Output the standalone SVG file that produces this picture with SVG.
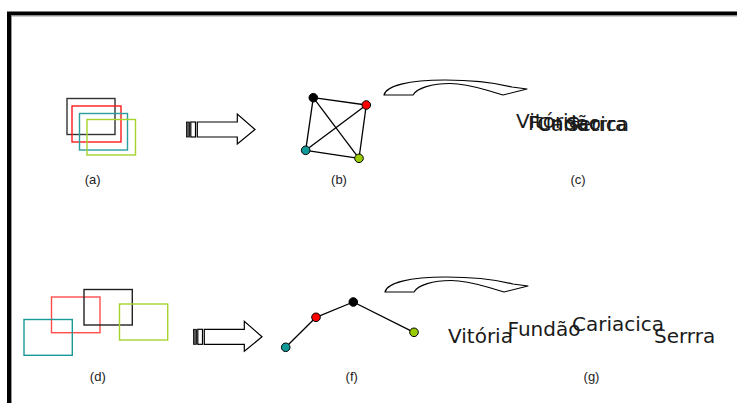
<svg xmlns="http://www.w3.org/2000/svg" xmlns:xlink="http://www.w3.org/1999/xlink" width="737" height="403" viewBox="0 0 737 403">
<style>
.lbl{font-family:"Liberation Sans",Arial,sans-serif;font-size:13px;fill:#222;text-anchor:middle}
.city{font-family:"DejaVu Sans",Verdana,sans-serif;font-size:20px;fill:#1a1a1a}
.rect{fill:none;stroke-width:1.4}
.edge{stroke:#000;stroke-width:1.3;fill:none}
.node{stroke:#000;stroke-width:1}
.blk{fill:#fff;stroke:#000;stroke-width:1.2}
.curve{fill:#fff;stroke:#000;stroke-width:1.2;stroke-linejoin:round}
</style>
<defs>
<g id="blockArrow">
<rect x="186.5" y="122" width="3" height="15" fill="#555" stroke="#000" stroke-width="0.8"/>
<rect x="190.8" y="122" width="4.7" height="15" class="blk"/>
<path d="M197.3,122 L237.3,122 L237.3,114 L255,129.5 L237.3,144 L237.3,137 L197.3,137 Z" class="blk"/>
</g>
<path id="curveArrow" d="M384,95 C386,86 408,80 445,80 C474,80 496,83 512,87 L527,89 L503,95 L488,90.5 C476,87 463,83.5 450,83.5 C432,83.5 417,88 413,95 Z" class="curve"/>
</defs>
<rect x="9" y="13.5" width="800" height="500" fill="#fff" stroke="#000" stroke-width="4"/>
<rect x="11.5" y="16" width="800" height="500" fill="none" stroke="#999" stroke-width="1"/>

<g id="a">
<rect x="67" y="98.5" width="48" height="36" class="rect" stroke="#333"/>
<rect x="72" y="106" width="49" height="36" class="rect" stroke="#ff1a1a"/>
<rect x="79.5" y="113.5" width="48" height="36.5" class="rect" stroke="#2a9d9d"/>
<rect x="87" y="119.5" width="48.5" height="35.5" class="rect" stroke="#a6d22e"/>
<text x="92.7" y="184" class="lbl">(a)</text>
</g>

<g id="arrow1"><use xlink:href="#blockArrow"/></g>

<g id="connectors">
<line x1="313.3" y1="97.7" x2="366.3" y2="105" class="edge"/>
<line x1="313.3" y1="97.7" x2="305.7" y2="150.3" class="edge"/>
<line x1="313.3" y1="97.7" x2="359" y2="158.3" class="edge"/>
<line x1="366.3" y1="105" x2="305.7" y2="150.3" class="edge"/>
<line x1="366.3" y1="105" x2="359" y2="158.3" class="edge"/>
<line x1="305.7" y1="150.3" x2="359" y2="158.3" class="edge"/>
<line x1="285.7" y1="347.3" x2="316" y2="317.3" class="edge"/>
<line x1="316" y1="317.3" x2="353.3" y2="302" class="edge"/>
<line x1="353.3" y1="302" x2="414" y2="332.3" class="edge"/>
</g>

<g id="b">
<circle cx="313.3" cy="97.7" r="4.3" fill="#000" class="node"/>
<circle cx="366.3" cy="105" r="4.3" fill="#ff0000" class="node"/>
<circle cx="305.7" cy="150.3" r="4.3" fill="#119999" class="node"/>
<circle cx="359" cy="158.3" r="4.3" fill="#99cc00" class="node"/>
<text x="339" y="184" class="lbl">(b)</text>
</g>

<g id="curve1"><use xlink:href="#curveArrow"/></g>

<g id="c">
<text x="516" y="128" class="city">Vitória</text>
<text x="528" y="130" class="city">Fundão</text>
<text x="537" y="131" class="city">Cariacica</text>
<text x="566" y="131" class="city">Serrra</text>
<text x="578" y="184" class="lbl">(c)</text>
</g>

<g id="d">
<rect x="51.5" y="297" width="48.5" height="35.7" class="rect" stroke="#ff4d4d"/>
<rect x="84" y="289.5" width="48.3" height="35.5" class="rect" stroke="#222"/>
<rect x="119.5" y="304" width="48.2" height="36" class="rect" stroke="#a6d22e"/>
<rect x="24" y="319.5" width="48.3" height="35.8" class="rect" stroke="#1a9999"/>
<text x="97.8" y="381" class="lbl">(d)</text>
</g>

<g id="arrow2"><use xlink:href="#blockArrow" transform="translate(7,207.3)"/></g>

<g id="f">
<circle cx="285.7" cy="347.3" r="4.3" fill="#119999" class="node"/>
<circle cx="316" cy="317.3" r="4.3" fill="#ff0000" class="node"/>
<circle cx="353.3" cy="302" r="4.3" fill="#000" class="node"/>
<circle cx="414" cy="332.3" r="4.3" fill="#99cc00" class="node"/>
<text x="351.7" y="381" class="lbl">(f)</text>
</g>

<g id="curve2"><use xlink:href="#curveArrow" transform="translate(1,197)"/></g>

<g id="g">
<text x="448" y="343" class="city">Vitória</text>
<text x="507.5" y="335.5" class="city">Fundão</text>
<text x="572" y="331" class="city">Cariacica</text>
<text x="654" y="343" class="city">Serrra</text>
<text x="591.5" y="381" class="lbl">(g)</text>
</g>
</svg>
